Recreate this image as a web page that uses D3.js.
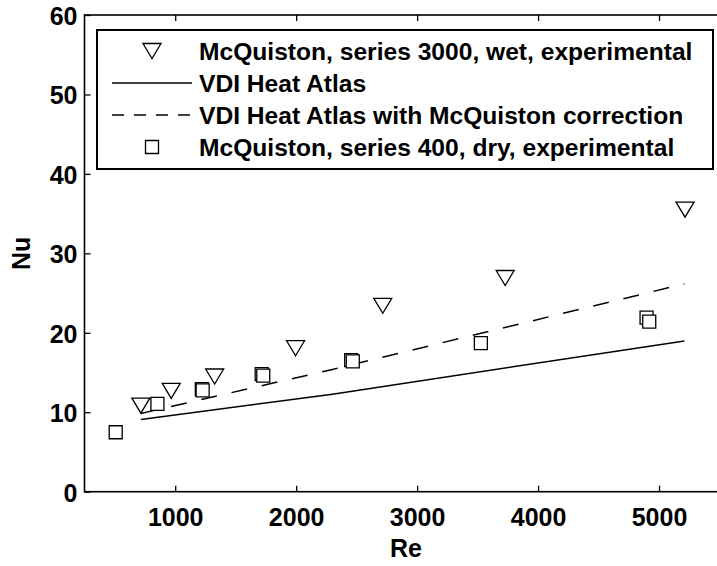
<!DOCTYPE html>
<html>
<head>
<meta charset="utf-8">
<script src="https://cdn.jsdelivr.net/npm/d3@7"></script>
<style>
  body { margin: 0; background: #fff; }
  svg { display: block; }
  text { font-family: "Liberation Sans", Arial, sans-serif; font-weight: bold; fill: #000; }
</style>
</head>
<body>
<svg width="717" height="566"></svg>
<script>
// McQuiston, series 3000, wet
const wetRe = [716, 967, 1326, 1995, 2716, 3728, 5215];
const wetNu = [10.83, 12.68, 14.5, 18.06, 23.4, 26.9, 35.5];

// McQuiston, series 400, dry (some points overlap)
const dryRe = [508, 853, 1220, 1227, 1715, 1728, 2455, 2468, 3527, 4897, 4919];
const dryNu = [7.48, 11.05, 12.9, 12.75, 14.8, 14.6, 16.55, 16.4, 18.69, 21.9, 21.4];

// VDI Heat Atlas, plain and with McQuiston correction
const vdiRe = [716, 2300, 5210];
const vdiNu = [9.1, 12.28, 18.98];
const corrNu = [9.85, 15.39, 26.16];

const xTicks = [1000, 2000, 3000, 4000, 5000];
const yTicks = [0, 10, 20, 30, 40, 50, 60];

const legendLabels = [
    "McQuiston, series 3000, wet, experimental",
    "VDI Heat Atlas",
    "VDI Heat Atlas with McQuiston correction",
    "McQuiston, series 400, dry, experimental"
];

const svg = d3.select("svg");
const fontSize = 25;
const legendFont = 24.6;

// right edge of the axes box sits just outside the window
const x = d3.scaleLinear().domain([250, 5500]).range([84.5, 719.5]);
const y = d3.scaleLinear().domain([0, 60]).range([491.7, 15]);

const plotL = x.range()[0], plotR = x.range()[1],
      plotT = y.range()[1], plotB = y.range()[0];

// ticks pointing inward, mirrored on top
const tickLen = 6;
svg.append("g")
    .attr("transform", `translate(0,${plotB})`)
    .call(d3.axisBottom(x).tickValues(xTicks).tickSizeInner(-tickLen).tickSizeOuter(0).tickFormat(d3.format("d")))
    .call(g => g.select(".domain").remove())
    .call(g => g.selectAll("text").attr("font-size", fontSize).attr("dy", null).attr("y", 34.5));

svg.append("g")
    .attr("transform", `translate(0,${plotT})`)
    .call(d3.axisTop(x).tickValues(xTicks).tickSizeInner(-tickLen).tickSizeOuter(0).tickFormat(""))
    .call(g => g.select(".domain").remove());

svg.append("g")
    .attr("transform", `translate(${plotL},0)`)
    .call(d3.axisLeft(y).tickValues(yTicks).tickSizeInner(-tickLen).tickSizeOuter(0))
    .call(g => g.select(".domain").remove())
    .call(g => g.selectAll("text").attr("font-size", fontSize).attr("x", -7).attr("dy", "0.38em"));

svg.selectAll(".tick line").attr("stroke", "#000").attr("stroke-width", 1.3);

// box
svg.append("rect")
    .attr("x", plotL).attr("y", plotT)
    .attr("width", plotR - plotL).attr("height", plotB - plotT)
    .attr("fill", "none").attr("stroke", "#000").attr("stroke-width", 1.6);

// axis labels
svg.append("text")
    .attr("x", 406).attr("y", 556.5)
    .attr("text-anchor", "middle")
    .attr("font-size", fontSize)
    .text("Re");

svg.append("text")
    .attr("transform", `translate(30,${(plotT + plotB) / 2}) rotate(-90)`)
    .attr("text-anchor", "middle")
    .attr("font-size", fontSize)
    .text("Nu");

// marker shapes
const triPath = "M-9,-7.5L9,-7.5L0,7.5Z";
const sqPath = "M-6.5,-6.5H6.5V6.5H-6.5Z";

// triangles first (plot order)
svg.append("g").selectAll("path")
    .data(wetRe.map((r, i) => [r, wetNu[i]]))
    .join("path")
    .attr("d", triPath)
    .attr("transform", d => `translate(${x(d[0])},${y(d[1])})`)
    .attr("fill", "#fff").attr("stroke", "#000").attr("stroke-width", 1.3);

const line = d3.line().x(d => x(d[0])).y(d => y(d[1]));

svg.append("path")
    .datum(vdiRe.map((r, i) => [r, vdiNu[i]]))
    .attr("d", line)
    .attr("fill", "none").attr("stroke", "#000").attr("stroke-width", 1.5);

svg.append("path")
    .datum(vdiRe.map((r, i) => [r, corrNu[i]]))
    .attr("d", line)
    .attr("fill", "none").attr("stroke", "#000").attr("stroke-width", 1.5)
    .attr("stroke-dasharray", "16,15");

svg.append("g").selectAll("path")
    .data(dryRe.map((r, i) => [r, dryNu[i]]))
    .join("path")
    .attr("d", sqPath)
    .attr("transform", d => `translate(${x(d[0])},${y(d[1])})`)
    .attr("fill", "#fff").attr("stroke", "#000").attr("stroke-width", 1.3);

// legend
const legend = svg.append("g");
legend.append("rect")
    .attr("x", 97).attr("y", 30)
    .attr("width", 616).attr("height", 139)
    .attr("fill", "#fff").attr("stroke", "#000").attr("stroke-width", 2);

const rowY = [51, 83, 115, 147];
const symX = 152;

legend.append("path").attr("d", triPath)
    .attr("transform", `translate(${symX},${rowY[0]})`)
    .attr("fill", "#fff").attr("stroke", "#000").attr("stroke-width", 1.3);
legend.append("line")
    .attr("x1", 112).attr("x2", 192).attr("y1", rowY[1]).attr("y2", rowY[1])
    .attr("stroke", "#000").attr("stroke-width", 1.5);
legend.append("line")
    .attr("x1", 112).attr("x2", 192).attr("y1", rowY[2]).attr("y2", rowY[2])
    .attr("stroke", "#000").attr("stroke-width", 1.5)
    .attr("stroke-dasharray", "12,10");
legend.append("path").attr("d", sqPath)
    .attr("transform", `translate(${symX},${rowY[3]})`)
    .attr("fill", "#fff").attr("stroke", "#000").attr("stroke-width", 1.3);

legend.selectAll("text.lbl")
    .data(legendLabels)
    .join("text")
    .attr("class", "lbl")
    .attr("x", 199)
    .attr("y", (d, i) => rowY[i])
    .attr("dy", "0.36em")
    .attr("font-size", legendFont)
    .text(d => d);
</script>
</body>
</html>
